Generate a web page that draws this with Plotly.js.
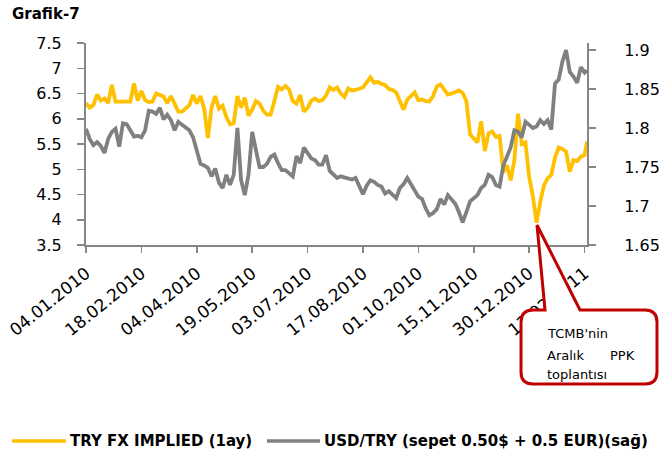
<!DOCTYPE html>
<html>
<head>
<meta charset="utf-8">
<script src="https://cdn.plot.ly/plotly-3.0.1.min.js"></script>
<style>
html,body{margin:0;padding:0;background:#fff;}
#chart{width:667px;height:459px;}
</style>
</head>
<body>
<div id="chart"></div>
<script>
var dates = [
"2010-01-04","2010-01-07","2010-01-10","2010-01-13","2010-01-16","2010-01-19","2010-01-22","2010-01-25","2010-01-28","2010-01-31",
"2010-02-03","2010-02-06","2010-02-09","2010-02-12","2010-02-15","2010-02-18","2010-02-21","2010-02-24","2010-02-27","2010-03-02",
"2010-03-05","2010-03-08","2010-03-11","2010-03-14","2010-03-17","2010-03-20","2010-03-23","2010-03-26","2010-03-29","2010-04-01",
"2010-04-04","2010-04-07","2010-04-10","2010-04-13","2010-04-16","2010-04-19","2010-04-22","2010-04-25","2010-04-28","2010-05-01",
"2010-05-04","2010-05-07","2010-05-10","2010-05-13","2010-05-16","2010-05-19","2010-05-22","2010-05-25","2010-05-28","2010-05-31",
"2010-06-03","2010-06-06","2010-06-09","2010-06-12","2010-06-15","2010-06-18","2010-06-21","2010-06-24","2010-06-27","2010-06-30",
"2010-07-03","2010-07-06","2010-07-09","2010-07-12","2010-07-15","2010-07-18","2010-07-21","2010-07-24","2010-07-27","2010-07-30",
"2010-08-02","2010-08-05","2010-08-08","2010-08-11","2010-08-14","2010-08-17","2010-08-20","2010-08-23","2010-08-26","2010-08-29",
"2010-09-01","2010-09-04","2010-09-07","2010-09-10","2010-09-13","2010-09-16","2010-09-19","2010-09-22","2010-09-25","2010-09-28",
"2010-10-01","2010-10-04","2010-10-07","2010-10-10","2010-10-13","2010-10-16","2010-10-19","2010-10-22","2010-10-25","2010-10-28",
"2010-10-31","2010-11-03","2010-11-06","2010-11-09","2010-11-12","2010-11-15","2010-11-18","2010-11-21","2010-11-24","2010-11-27",
"2010-11-30","2010-12-03","2010-12-06","2010-12-09","2010-12-12","2010-12-15","2010-12-18","2010-12-21","2010-12-24","2010-12-27",
"2010-12-30","2011-01-02","2011-01-05","2011-01-08","2011-01-11","2011-01-14","2011-01-17","2011-01-20","2011-01-23","2011-01-26",
"2011-01-29","2011-02-01","2011-02-04","2011-02-07","2011-02-10","2011-02-13","2011-02-15"
];

// TRY FX IMPLIED (1ay) - left axis
var fxImplied = [
6.31,6.22,6.27,6.48,6.36,6.40,6.31,6.67,6.34,6.34,
6.34,6.34,6.34,6.70,6.36,6.55,6.37,6.33,6.34,6.50,
6.47,6.44,6.31,6.45,6.30,6.14,6.14,6.21,6.27,6.47,
6.30,6.45,6.20,5.62,6.22,6.45,6.20,6.26,6.04,5.89,
5.91,6.45,6.22,6.42,6.06,6.18,6.35,6.30,6.16,6.08,
6.08,6.35,6.63,6.58,6.65,6.58,6.35,6.30,6.47,6.14,
6.21,6.36,6.40,6.35,6.37,6.46,6.62,6.57,6.62,6.50,
6.43,6.60,6.56,6.57,6.60,6.62,6.72,6.82,6.71,6.73,
6.69,6.67,6.59,6.57,6.52,6.35,6.18,6.38,6.46,6.52,
6.37,6.38,6.35,6.34,6.45,6.64,6.68,6.59,6.48,6.50,
6.53,6.56,6.51,6.35,5.69,5.61,5.53,5.95,5.36,5.71,
5.75,5.64,5.66,4.94,5.08,4.78,5.18,6.10,5.50,5.53,
4.85,4.47,3.94,4.35,4.68,4.82,4.89,5.23,5.43,5.40,
5.35,4.95,5.18,5.16,5.25,5.28,5.55
];

// USD/TRY (sepet 0.50$ + 0.5 EUR) - right axis
var usdTry = [
1.799,1.786,1.778,1.782,1.777,1.768,1.786,1.795,1.799,1.776,
1.806,1.805,1.797,1.789,1.790,1.788,1.797,1.822,1.821,1.818,
1.826,1.811,1.817,1.810,1.797,1.808,1.804,1.800,1.797,1.788,
1.772,1.754,1.752,1.749,1.738,1.748,1.730,1.723,1.740,1.727,
1.740,1.800,1.733,1.714,1.740,1.795,1.772,1.750,1.750,1.754,
1.763,1.766,1.755,1.746,1.746,1.742,1.738,1.764,1.755,1.775,
1.767,1.761,1.759,1.753,1.753,1.765,1.745,1.741,1.736,1.738,
1.737,1.736,1.734,1.736,1.724,1.715,1.726,1.733,1.731,1.727,
1.725,1.716,1.719,1.715,1.710,1.723,1.728,1.736,1.727,1.720,
1.712,1.709,1.697,1.688,1.691,1.696,1.709,1.702,1.714,1.708,
1.703,1.692,1.679,1.692,1.706,1.710,1.714,1.723,1.727,1.740,
1.737,1.727,1.725,1.752,1.764,1.775,1.797,1.795,1.788,1.808,
1.804,1.800,1.802,1.810,1.805,1.810,1.798,1.857,1.862,1.885,
1.900,1.872,1.866,1.858,1.878,1.871,1.874
];

var seriesNames = ["TRY FX IMPLIED (1ay)", "USD/TRY (sepet 0.50$ + 0.5 EUR)(sağ)"];
var seriesColors = ["#FFC000", "#808080"];
var titleText = "Grafik-7";
var calloutLines = ["TCMB'nin", "Aralık", "PPK", "toplantısı"];

var axisColor = "#868686";
var fontFam = "DejaVu Sans";

var traces = [
  {x: dates, y: fxImplied, name: seriesNames[0], type: "scatter", mode: "lines",
   line: {color: seriesColors[0], width: 3.8, shape: "linear"}, yaxis: "y", hoverinfo: "skip"},
  {x: dates, y: usdTry, name: seriesNames[1], type: "scatter", mode: "lines",
   line: {color: seriesColors[1], width: 3.8, shape: "linear"}, yaxis: "y2", hoverinfo: "skip"}
];

// helpers: paper coordinates from the plot-area frame
var L = 86, R = 80, T = 43, B = 214, W = 667, H = 459;
var pw = W - L - R, ph = H - T - B;
function px(X){ return (X - L) / pw; }
function py(Y){ return (H - B - Y) / ph; }
function P(X, Y){ return px(X).toFixed(4) + "," + py(Y).toFixed(4); }

var calloutPath = "M" + P(545,310) + " L" + P(537,225) + " L" + P(580,310) +
  " L" + P(645,310) + " Q" + P(657,310) + " " + P(657,322) +
  " L" + P(657,372) + " Q" + P(657,384) + " " + P(645,384) +
  " L" + P(533,384) + " Q" + P(521,384) + " " + P(521,372) +
  " L" + P(521,322) + " Q" + P(521,310) + " " + P(533,310) + " Z";

var layout = {
  width: W, height: H,
  margin: {l: L, r: R, t: T, b: B, pad: 0},
  paper_bgcolor: "#ffffff",
  plot_bgcolor: "#ffffff",
  showlegend: false,
  font: {family: fontFam, size: 16, color: "#000000"},
  title: {
    text: "<b>" + titleText + "</b>",
    font: {family: fontFam, size: 15, color: "#000000"},
    xref: "container", yref: "container",
    x: 12 / W, xanchor: "left",
    y: 1 - 14 / H, yanchor: "middle"
  },
  xaxis: {
    type: "date",
    range: ["2010-01-04", "2011-02-15"],
    tick0: "2010-01-04",
    dtick: 45 * 86400000,
    tickformat: "%d.%m.%Y",
    tickangle: -39,
    showline: true, linecolor: axisColor, linewidth: 2,
    ticks: "outside", ticklen: 6, tickwidth: 1.5, tickcolor: axisColor,
    ticklabelstandoff: 4,
    showgrid: false, zeroline: false, automargin: false,
    tickfont: {family: fontFam, size: 17, color: "#000000"}
  },
  yaxis: {
    range: [3.5, 7.5], tick0: 3.5, dtick: 0.5,
    showline: true, linecolor: axisColor, linewidth: 2,
    ticks: "outside", ticklen: 7, tickwidth: 1.5, tickcolor: axisColor,
    ticklabelstandoff: 12,
    showgrid: false, zeroline: false, automargin: false,
    tickfont: {family: fontFam, size: 16, color: "#000000"}
  },
  yaxis2: {
    overlaying: "y", side: "right", anchor: "x",
    range: [1.65, 1.65 + 202 / 780], tick0: 1.65, dtick: 0.05,
    showline: true, linecolor: axisColor, linewidth: 2,
    ticks: "outside", ticklen: 7, tickwidth: 1.5, tickcolor: axisColor,
    ticklabelstandoff: 25,
    showgrid: false, zeroline: false, automargin: false,
    tickfont: {family: fontFam, size: 16, color: "#000000"}
  },
  shapes: [
    {type: "path", xref: "paper", yref: "paper", path: calloutPath,
     fillcolor: "#ffffff", line: {color: "#C00000", width: 3}, layer: "above"},
    {type: "line", xref: "paper", yref: "paper", x0: px(12), x1: px(66), y0: py(441), y1: py(441),
     line: {color: seriesColors[0], width: 3.5}},
    {type: "line", xref: "paper", yref: "paper", x0: px(267), x1: px(320), y0: py(441), y1: py(441),
     line: {color: seriesColors[1], width: 3.5}}
  ],
  annotations: [
    {xref: "paper", yref: "paper", x: px(545), y: py(333), xanchor: "left", yanchor: "middle",
     text: calloutLines[0], showarrow: false, font: {family: fontFam, size: 13, color: "#000"}},
    {xref: "paper", yref: "paper", x: px(545), y: py(355), xanchor: "left", yanchor: "middle",
     text: calloutLines[1], showarrow: false, font: {family: fontFam, size: 13, color: "#000"}},
    {xref: "paper", yref: "paper", x: px(637), y: py(355), xanchor: "right", yanchor: "middle",
     text: calloutLines[2], showarrow: false, font: {family: fontFam, size: 13, color: "#000"}},
    {xref: "paper", yref: "paper", x: px(545), y: py(374), xanchor: "left", yanchor: "middle",
     text: calloutLines[3], showarrow: false, font: {family: fontFam, size: 13, color: "#000"}},
    {xref: "paper", yref: "paper", x: px(68), y: py(441), xanchor: "left", yanchor: "middle",
     text: "<b>" + seriesNames[0] + "</b>", showarrow: false, font: {family: fontFam, size: 15, color: "#000"}},
    {xref: "paper", yref: "paper", x: px(322), y: py(441), xanchor: "left", yanchor: "middle",
     text: "<b>" + seriesNames[1] + "</b>", showarrow: false, font: {family: fontFam, size: 15, color: "#000"}}
  ]
};

Plotly.newPlot("chart", traces, layout, {staticPlot: true, displayModeBar: false});
</script>
</body>
</html>
